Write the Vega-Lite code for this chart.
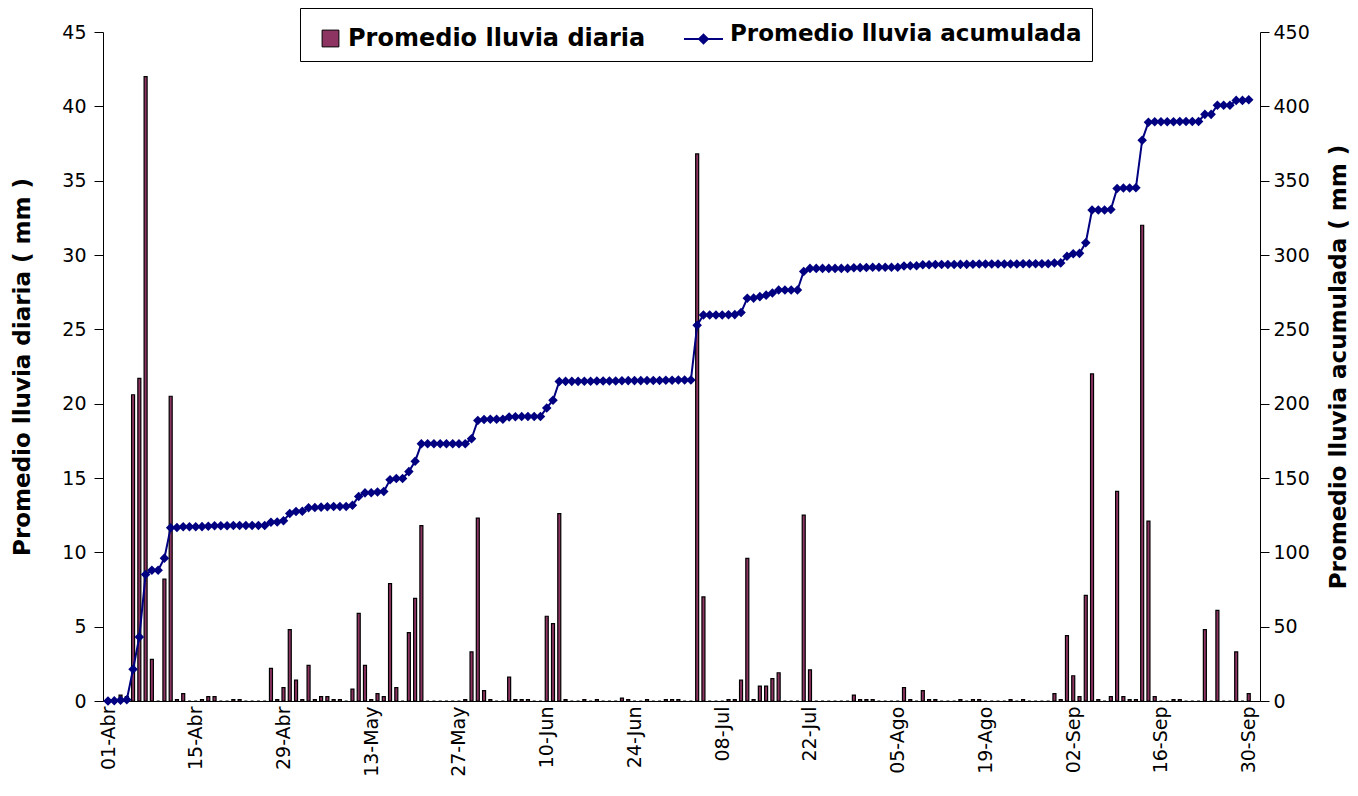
{
"$schema": "https://vega.github.io/schema/vega-lite/v6.json",
"width": 1157, "height": 669,
"autosize": "none",
"padding": {"left": 103, "top": 32, "right": 98, "bottom": 95},
"background": "white",
"config": {"view": {"stroke": null}, "font": "DejaVu Sans",
 "axis": {"grid": false, "domainColor": "black", "tickColor": "black", "labelColor": "black", "titleColor": "black", "labelFont": "DejaVu Sans", "labelFontSize": 19, "titleFont": "DejaVu Sans", "titleFontWeight": "bold", "titleFontSize": 23},
 "legend": {"labelFont": "DejaVu Sans", "labelFontWeight": "bold", "labelFontSize": 24, "labelColor": "black", "labelLimit": 1000, "symbolSize": 1600, "labelOffset": -3, "padding": 10}},
"data": {"values": [
{"fecha":"2007-04-01","diaria":0,"acumulada":0},
{"fecha":"2007-04-02","diaria":0.1,"acumulada":0.1},
{"fecha":"2007-04-03","diaria":0.4,"acumulada":0.5},
{"fecha":"2007-04-04","diaria":0.3,"acumulada":0.8},
{"fecha":"2007-04-05","diaria":20.6,"acumulada":21.4},
{"fecha":"2007-04-06","diaria":21.7,"acumulada":43.1},
{"fecha":"2007-04-07","diaria":42.0,"acumulada":85.1},
{"fecha":"2007-04-08","diaria":2.8,"acumulada":87.9},
{"fecha":"2007-04-09","diaria":0,"acumulada":87.9},
{"fecha":"2007-04-10","diaria":8.2,"acumulada":96.1},
{"fecha":"2007-04-11","diaria":20.5,"acumulada":116.6},
{"fecha":"2007-04-12","diaria":0.1,"acumulada":116.7},
{"fecha":"2007-04-13","diaria":0.5,"acumulada":117.2},
{"fecha":"2007-04-14","diaria":0,"acumulada":117.2},
{"fecha":"2007-04-15","diaria":0,"acumulada":117.2},
{"fecha":"2007-04-16","diaria":0.1,"acumulada":117.3},
{"fecha":"2007-04-17","diaria":0.3,"acumulada":117.6},
{"fecha":"2007-04-18","diaria":0.3,"acumulada":117.9},
{"fecha":"2007-04-19","diaria":0,"acumulada":117.9},
{"fecha":"2007-04-20","diaria":0,"acumulada":117.9},
{"fecha":"2007-04-21","diaria":0.1,"acumulada":118.0},
{"fecha":"2007-04-22","diaria":0.1,"acumulada":118.1},
{"fecha":"2007-04-23","diaria":0,"acumulada":118.1},
{"fecha":"2007-04-24","diaria":0,"acumulada":118.1},
{"fecha":"2007-04-25","diaria":0,"acumulada":118.1},
{"fecha":"2007-04-26","diaria":0,"acumulada":118.1},
{"fecha":"2007-04-27","diaria":2.2,"acumulada":120.3},
{"fecha":"2007-04-28","diaria":0.1,"acumulada":120.4},
{"fecha":"2007-04-29","diaria":0.9,"acumulada":121.3},
{"fecha":"2007-04-30","diaria":4.8,"acumulada":126.1},
{"fecha":"2007-05-01","diaria":1.4,"acumulada":127.5},
{"fecha":"2007-05-02","diaria":0.1,"acumulada":127.6},
{"fecha":"2007-05-03","diaria":2.4,"acumulada":130.0},
{"fecha":"2007-05-04","diaria":0.1,"acumulada":130.1},
{"fecha":"2007-05-05","diaria":0.3,"acumulada":130.4},
{"fecha":"2007-05-06","diaria":0.3,"acumulada":130.7},
{"fecha":"2007-05-07","diaria":0.1,"acumulada":130.8},
{"fecha":"2007-05-08","diaria":0.1,"acumulada":130.9},
{"fecha":"2007-05-09","diaria":0,"acumulada":130.9},
{"fecha":"2007-05-10","diaria":0.8,"acumulada":131.7},
{"fecha":"2007-05-11","diaria":5.9,"acumulada":137.6},
{"fecha":"2007-05-12","diaria":2.4,"acumulada":140.0},
{"fecha":"2007-05-13","diaria":0.1,"acumulada":140.1},
{"fecha":"2007-05-14","diaria":0.5,"acumulada":140.6},
{"fecha":"2007-05-15","diaria":0.3,"acumulada":140.9},
{"fecha":"2007-05-16","diaria":7.9,"acumulada":148.8},
{"fecha":"2007-05-17","diaria":0.9,"acumulada":149.7},
{"fecha":"2007-05-18","diaria":0,"acumulada":149.7},
{"fecha":"2007-05-19","diaria":4.6,"acumulada":154.3},
{"fecha":"2007-05-20","diaria":6.9,"acumulada":161.2},
{"fecha":"2007-05-21","diaria":11.8,"acumulada":173.0},
{"fecha":"2007-05-22","diaria":0,"acumulada":173.0},
{"fecha":"2007-05-23","diaria":0,"acumulada":173.0},
{"fecha":"2007-05-24","diaria":0,"acumulada":173.0},
{"fecha":"2007-05-25","diaria":0,"acumulada":173.0},
{"fecha":"2007-05-26","diaria":0,"acumulada":173.0},
{"fecha":"2007-05-27","diaria":0,"acumulada":173.0},
{"fecha":"2007-05-28","diaria":0.1,"acumulada":173.1},
{"fecha":"2007-05-29","diaria":3.3,"acumulada":176.4},
{"fecha":"2007-05-30","diaria":12.3,"acumulada":188.7},
{"fecha":"2007-05-31","diaria":0.7,"acumulada":189.4},
{"fecha":"2007-06-01","diaria":0.1,"acumulada":189.5},
{"fecha":"2007-06-02","diaria":0,"acumulada":189.5},
{"fecha":"2007-06-03","diaria":0,"acumulada":189.5},
{"fecha":"2007-06-04","diaria":1.6,"acumulada":191.1},
{"fecha":"2007-06-05","diaria":0.1,"acumulada":191.2},
{"fecha":"2007-06-06","diaria":0.1,"acumulada":191.3},
{"fecha":"2007-06-07","diaria":0.1,"acumulada":191.4},
{"fecha":"2007-06-08","diaria":0,"acumulada":191.4},
{"fecha":"2007-06-09","diaria":0,"acumulada":191.4},
{"fecha":"2007-06-10","diaria":5.7,"acumulada":197.1},
{"fecha":"2007-06-11","diaria":5.2,"acumulada":202.3},
{"fecha":"2007-06-12","diaria":12.6,"acumulada":214.9},
{"fecha":"2007-06-13","diaria":0.1,"acumulada":215.0},
{"fecha":"2007-06-14","diaria":0,"acumulada":215.0},
{"fecha":"2007-06-15","diaria":0,"acumulada":215.0},
{"fecha":"2007-06-16","diaria":0.1,"acumulada":215.1},
{"fecha":"2007-06-17","diaria":0,"acumulada":215.1},
{"fecha":"2007-06-18","diaria":0.1,"acumulada":215.2},
{"fecha":"2007-06-19","diaria":0,"acumulada":215.2},
{"fecha":"2007-06-20","diaria":0,"acumulada":215.2},
{"fecha":"2007-06-21","diaria":0,"acumulada":215.2},
{"fecha":"2007-06-22","diaria":0.2,"acumulada":215.4},
{"fecha":"2007-06-23","diaria":0.1,"acumulada":215.5},
{"fecha":"2007-06-24","diaria":0,"acumulada":215.5},
{"fecha":"2007-06-25","diaria":0,"acumulada":215.5},
{"fecha":"2007-06-26","diaria":0.1,"acumulada":215.6},
{"fecha":"2007-06-27","diaria":0,"acumulada":215.6},
{"fecha":"2007-06-28","diaria":0,"acumulada":215.6},
{"fecha":"2007-06-29","diaria":0.1,"acumulada":215.7},
{"fecha":"2007-06-30","diaria":0.1,"acumulada":215.8},
{"fecha":"2007-07-01","diaria":0.1,"acumulada":215.9},
{"fecha":"2007-07-02","diaria":0,"acumulada":215.9},
{"fecha":"2007-07-03","diaria":0,"acumulada":215.9},
{"fecha":"2007-07-04","diaria":36.8,"acumulada":252.7},
{"fecha":"2007-07-05","diaria":7.0,"acumulada":259.7},
{"fecha":"2007-07-06","diaria":0,"acumulada":259.7},
{"fecha":"2007-07-07","diaria":0,"acumulada":259.7},
{"fecha":"2007-07-08","diaria":0,"acumulada":259.7},
{"fecha":"2007-07-09","diaria":0.1,"acumulada":259.8},
{"fecha":"2007-07-10","diaria":0.1,"acumulada":259.9},
{"fecha":"2007-07-11","diaria":1.4,"acumulada":261.3},
{"fecha":"2007-07-12","diaria":9.6,"acumulada":270.9},
{"fecha":"2007-07-13","diaria":0.1,"acumulada":271.0},
{"fecha":"2007-07-14","diaria":1.0,"acumulada":272.0},
{"fecha":"2007-07-15","diaria":1.0,"acumulada":273.0},
{"fecha":"2007-07-16","diaria":1.5,"acumulada":274.5},
{"fecha":"2007-07-17","diaria":1.9,"acumulada":276.4},
{"fecha":"2007-07-18","diaria":0,"acumulada":276.4},
{"fecha":"2007-07-19","diaria":0,"acumulada":276.4},
{"fecha":"2007-07-20","diaria":0,"acumulada":276.4},
{"fecha":"2007-07-21","diaria":12.5,"acumulada":288.9},
{"fecha":"2007-07-22","diaria":2.1,"acumulada":291.0},
{"fecha":"2007-07-23","diaria":0,"acumulada":291.0},
{"fecha":"2007-07-24","diaria":0,"acumulada":291.0},
{"fecha":"2007-07-25","diaria":0,"acumulada":291.0},
{"fecha":"2007-07-26","diaria":0,"acumulada":291.0},
{"fecha":"2007-07-27","diaria":0,"acumulada":291.0},
{"fecha":"2007-07-28","diaria":0,"acumulada":291.0},
{"fecha":"2007-07-29","diaria":0.4,"acumulada":291.4},
{"fecha":"2007-07-30","diaria":0.1,"acumulada":291.5},
{"fecha":"2007-07-31","diaria":0.1,"acumulada":291.6},
{"fecha":"2007-08-01","diaria":0.1,"acumulada":291.7},
{"fecha":"2007-08-02","diaria":0,"acumulada":291.7},
{"fecha":"2007-08-03","diaria":0,"acumulada":291.7},
{"fecha":"2007-08-04","diaria":0,"acumulada":291.7},
{"fecha":"2007-08-05","diaria":0,"acumulada":291.7},
{"fecha":"2007-08-06","diaria":0.9,"acumulada":292.6},
{"fecha":"2007-08-07","diaria":0.1,"acumulada":292.7},
{"fecha":"2007-08-08","diaria":0,"acumulada":292.7},
{"fecha":"2007-08-09","diaria":0.7,"acumulada":293.4},
{"fecha":"2007-08-10","diaria":0.1,"acumulada":293.5},
{"fecha":"2007-08-11","diaria":0.1,"acumulada":293.6},
{"fecha":"2007-08-12","diaria":0,"acumulada":293.6},
{"fecha":"2007-08-13","diaria":0,"acumulada":293.6},
{"fecha":"2007-08-14","diaria":0,"acumulada":293.6},
{"fecha":"2007-08-15","diaria":0.1,"acumulada":293.7},
{"fecha":"2007-08-16","diaria":0,"acumulada":293.7},
{"fecha":"2007-08-17","diaria":0.1,"acumulada":293.8},
{"fecha":"2007-08-18","diaria":0.1,"acumulada":293.9},
{"fecha":"2007-08-19","diaria":0,"acumulada":293.9},
{"fecha":"2007-08-20","diaria":0,"acumulada":293.9},
{"fecha":"2007-08-21","diaria":0,"acumulada":293.9},
{"fecha":"2007-08-22","diaria":0,"acumulada":293.9},
{"fecha":"2007-08-23","diaria":0.1,"acumulada":294.0},
{"fecha":"2007-08-24","diaria":0,"acumulada":294.0},
{"fecha":"2007-08-25","diaria":0.1,"acumulada":294.1},
{"fecha":"2007-08-26","diaria":0,"acumulada":294.1},
{"fecha":"2007-08-27","diaria":0,"acumulada":294.1},
{"fecha":"2007-08-28","diaria":0,"acumulada":294.1},
{"fecha":"2007-08-29","diaria":0,"acumulada":294.1},
{"fecha":"2007-08-30","diaria":0.5,"acumulada":294.6},
{"fecha":"2007-08-31","diaria":0.1,"acumulada":294.7},
{"fecha":"2007-09-01","diaria":4.4,"acumulada":299.1},
{"fecha":"2007-09-02","diaria":1.7,"acumulada":300.8},
{"fecha":"2007-09-03","diaria":0.3,"acumulada":301.1},
{"fecha":"2007-09-04","diaria":7.1,"acumulada":308.2},
{"fecha":"2007-09-05","diaria":22.0,"acumulada":330.2},
{"fecha":"2007-09-06","diaria":0.1,"acumulada":330.3},
{"fecha":"2007-09-07","diaria":0,"acumulada":330.3},
{"fecha":"2007-09-08","diaria":0.3,"acumulada":330.6},
{"fecha":"2007-09-09","diaria":14.1,"acumulada":344.7},
{"fecha":"2007-09-10","diaria":0.3,"acumulada":345.0},
{"fecha":"2007-09-11","diaria":0.1,"acumulada":345.1},
{"fecha":"2007-09-12","diaria":0.1,"acumulada":345.2},
{"fecha":"2007-09-13","diaria":32.0,"acumulada":377.2},
{"fecha":"2007-09-14","diaria":12.1,"acumulada":389.3},
{"fecha":"2007-09-15","diaria":0.3,"acumulada":389.6},
{"fecha":"2007-09-16","diaria":0,"acumulada":389.6},
{"fecha":"2007-09-17","diaria":0,"acumulada":389.6},
{"fecha":"2007-09-18","diaria":0.1,"acumulada":389.7},
{"fecha":"2007-09-19","diaria":0.1,"acumulada":389.8},
{"fecha":"2007-09-20","diaria":0,"acumulada":389.8},
{"fecha":"2007-09-21","diaria":0,"acumulada":389.8},
{"fecha":"2007-09-22","diaria":0,"acumulada":389.8},
{"fecha":"2007-09-23","diaria":4.8,"acumulada":394.6},
{"fecha":"2007-09-24","diaria":0,"acumulada":394.6},
{"fecha":"2007-09-25","diaria":6.1,"acumulada":400.7},
{"fecha":"2007-09-26","diaria":0,"acumulada":400.7},
{"fecha":"2007-09-27","diaria":0,"acumulada":400.7},
{"fecha":"2007-09-28","diaria":3.3,"acumulada":404.0},
{"fecha":"2007-09-29","diaria":0,"acumulada":404.0},
{"fecha":"2007-09-30","diaria":0.5,"acumulada":404.5}
]},
"encoding": {
 "x": {"field": "fecha", "type": "temporal",
  "scale": {"type": "utc", "domain": [{"year":2007,"month":4,"date":1,"utc":true},{"year":2007,"month":10,"date":1,"utc":true}]},
  "axis": {"title": null, "ticks": false, "labelAngle": -90, "labelPadding": 5, "labelFlush": false, "labelOverlap": false,
   "values": [{"year":2007,"month":4,"date":1,"utc":true},{"year":2007,"month":4,"date":15,"utc":true},{"year":2007,"month":4,"date":29,"utc":true},{"year":2007,"month":5,"date":13,"utc":true},{"year":2007,"month":5,"date":27,"utc":true},{"year":2007,"month":6,"date":10,"utc":true},{"year":2007,"month":6,"date":24,"utc":true},{"year":2007,"month":7,"date":8,"utc":true},{"year":2007,"month":7,"date":22,"utc":true},{"year":2007,"month":8,"date":5,"utc":true},{"year":2007,"month":8,"date":19,"utc":true},{"year":2007,"month":9,"date":2,"utc":true},{"year":2007,"month":9,"date":16,"utc":true},{"year":2007,"month":9,"date":30,"utc":true}],
   "labelExpr": "utcFormat(datum.value, '%d') + '-' + ['Ene','Feb','Mar','Abr','May','Jun','Jul','Ago','Sep','Oct','Nov','Dic'][utcmonth(datum.value)]"}}
},
"layer": [
 {"mark": {"type": "bar", "width": 3, "stroke": "black", "strokeWidth": 1.2, "clip": true},
  "encoding": {
   "y": {"field": "diaria", "type": "quantitative", "scale": {"domain": [0, 45], "nice": false},
    "axis": {"title": "Promedio lluvia diaria ( mm )", "values": [0,5,10,15,20,25,30,35,40,45], "tickSize": 9, "labelPadding": 8, "titlePadding": 27}},
   "fill": {"datum": "Promedio lluvia diaria", "type": "nominal",
    "scale": {"range": ["#8e3462"]},
    "legend": {"orient": "none", "legendX": 197, "legendY": -24, "strokeColor": "black",
     "symbolType": "M-0.42,-0.42H0.42V0.42H-0.42Z", "symbolStrokeColor": "black", "symbolStrokeWidth": 1,
     "title": "Promedio lluvia acumulada", "titleOrient": "right", "titleColor": "black", "titleAnchor": "middle", "titleBaseline": "middle",
     "titleFont": "DejaVu Sans", "titleFontSize": 23, "titleFontWeight": "bold", "titlePadding": 85, "titleLimit": 1000}}}},
 {"mark": {"type": "line", "color": "#000080", "strokeWidth": 2, "point": {"filled": true, "shape": "diamond", "size": 45, "color": "#000080"}},
  "encoding": {
   "y": {"field": "acumulada", "type": "quantitative", "scale": {"domain": [0, 450], "nice": false},
    "axis": {"orient": "right", "title": "Promedio lluvia acumulada ( mm )", "values": [0,50,100,150,200,250,300,350,400,450], "tickSize": 9, "labelPadding": 4, "titleAngle": 270, "titleBaseline": "top", "titlePadding": 18}},
   "stroke": {"datum": "Promedio lluvia acumulada", "type": "nominal",
    "scale": {"range": ["#000080"]},
    "legend": {"orient": "none", "legendX": 580, "legendY": -24, "title": null, "labelExpr": "''",
     "symbolType": "M-1.5,0H0.45M-0.525,-0.22L-0.305,0L-0.525,0.22L-0.745,0Z", "symbolStrokeWidth": 2, "symbolFillColor": "#000080"}}}}
],
"resolve": {"scale": {"y": "independent"}}
}
